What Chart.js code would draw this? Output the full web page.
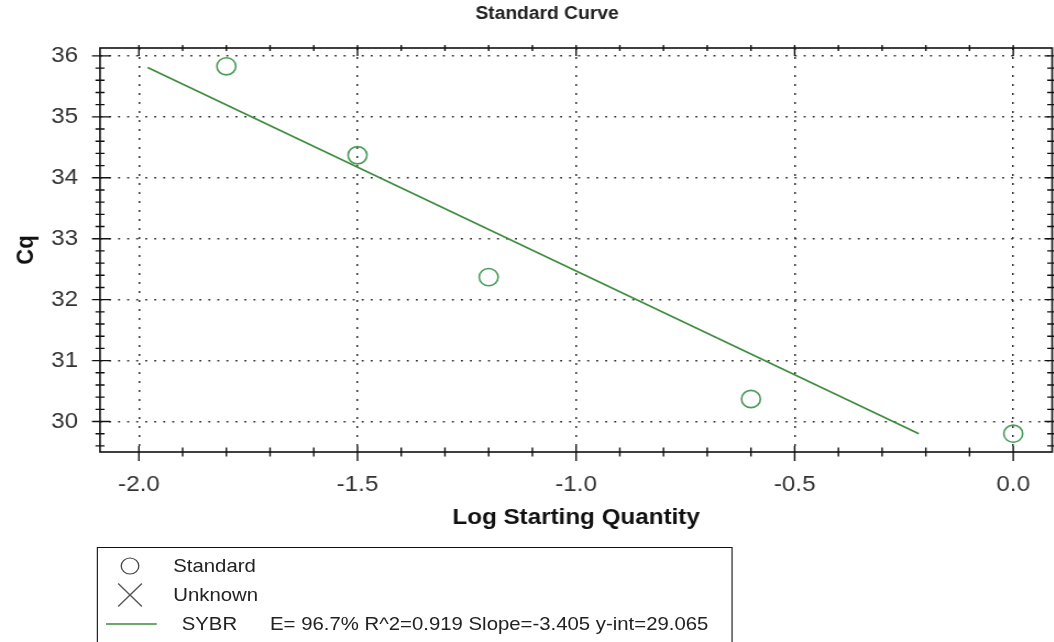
<!DOCTYPE html>
<html>
<head>
<meta charset="utf-8">
<script src="https://cdn.jsdelivr.net/npm/chart.js@4.4.1/dist/chart.umd.min.js"></script>
<style>
  html, body { margin: 0; padding: 0; background: #fff; overflow: hidden; width: 1054px; height: 642px; }
  #wrap { position: absolute; left: 0; top: 0; width: 958px; height: 642px; overflow: hidden;
          transform: scaleX(1.1); transform-origin: 0 0; }
  #c { position: absolute; left: 0; top: 0; }
  #legend { position: absolute; left: 88px; top: 547px; width: 578px; height: 130px;
            border: 1.4px solid #111; box-sizing: border-box; }
  .lt { position: absolute; font-family: "Liberation Sans", Arial, sans-serif; font-size: 18.5px;
        color: #222; line-height: 22px; white-space: pre; }
  svg.mk { position: absolute; overflow: visible; }
</style>
</head>
<body>
<div id="wrap">
  <canvas id="c" width="958" height="642"></canvas>
  <svg class="mk" style="left:0;top:0" width="958" height="642">
    <circle cx="118.2" cy="566" r="8" fill="none" stroke="#444" stroke-width="1.2"/>
    <line x1="107.4" y1="583.5" x2="129" y2="606.5" stroke="#555" stroke-width="1.2"/>
    <line x1="129" y1="583.5" x2="107.4" y2="606.5" stroke="#555" stroke-width="1.2"/>
    <line x1="96.4" y1="624" x2="142.5" y2="624" stroke="#3b8a3b" stroke-width="1.6"/>
  </svg>
  <div id="legend"></div>
  <div class="lt" id="lg1" style="left:157.5px;top:555px"></div>
  <div class="lt" id="lg2" style="left:157.5px;top:584px"></div>
  <div class="lt" id="lg3" style="left:165.2px;top:613px"></div>
  <div class="lt" id="lg4" style="left:245.5px;top:613px"></div>
</div>
<script>
// ---------- data ----------
const chartTitle = 'Standard Curve';
const xAxisTitle = 'Log Starting Quantity';
const yAxisTitle = 'Cq';
const xTickValues = [-2.0, -1.5, -1.0, -0.5, 0.0];
const yTickValues = [30, 31, 32, 33, 34, 35, 36];
const standardLogQty = [-1.8, -1.5, -1.2, -0.6, 0.0];
const standardCq = [35.83, 34.37, 32.37, 30.37, 29.80];
const fitLogQty = [-1.98, -0.216];
const fitCq = [35.81, 29.80];
const legendLabels = ['Standard', 'Unknown', 'SYBR', 'E= 96.7% R^2=0.919 Slope=-3.405 y-int=29.065'];

document.getElementById('lg1').textContent = legendLabels[0];
document.getElementById('lg2').textContent = legendLabels[1];
document.getElementById('lg3').textContent = legendLabels[2];
document.getElementById('lg4').textContent = legendLabels[3];

const FONT = '"Liberation Sans", Arial, sans-serif';
const GREEN_LINE = '#3b8a3b';
const GREEN_PT = '#4a9c5a';

const titlePlugin = {
  id: 'customTitle',
  afterDraw(chart) {
    const ctx = chart.ctx;
    ctx.save();
    ctx.font = 'bold 17.5px ' + FONT;
    ctx.fillStyle = '#222';
    ctx.textAlign = 'center';
    ctx.textBaseline = 'middle';
    ctx.fillText(chartTitle, 497.3, 14.5);
    ctx.restore();
  }
};

const framePlugin = {
  id: 'frame',
  afterDraw(chart) {
    const { ctx, chartArea: { left, right, top, bottom }, scales: { x, y } } = chart;
    ctx.save();
    ctx.strokeStyle = '#111';
    ctx.lineWidth = 1.6;
    ctx.strokeRect(left, top, right - left, bottom - top);
    ctx.lineWidth = 1.4;
    const xSub = 5, ySub = 5;
    for (let i = 0; i < xTickValues.length; i++) {
      const v0 = xTickValues[i];
      const px = x.getPixelForValue(v0);
      ctx.beginPath();
      ctx.moveTo(px, bottom - 6); ctx.lineTo(px, bottom + 9);
      ctx.moveTo(px, top - 3); ctx.lineTo(px, top + 8);
      ctx.stroke();
      if (i < xTickValues.length - 1) {
        const step = (xTickValues[i + 1] - v0) / xSub;
        for (let k = 1; k < xSub; k++) {
          const p = x.getPixelForValue(v0 + k * step);
          ctx.beginPath();
          ctx.moveTo(p, bottom - 4.5); ctx.lineTo(p, bottom + 4.5);
          ctx.moveTo(p, top - 3); ctx.lineTo(p, top + 3);
          ctx.stroke();
        }
      }
    }
    const yStep = (yTickValues[1] - yTickValues[0]) / ySub;
    const yStart = yTickValues[0] - 2 * yStep;
    for (let v = yStart; v <= yTickValues[yTickValues.length - 1] + 1e-9; v += yStep) {
      const py = y.getPixelForValue(v);
      if (py > bottom || py < top) continue;
      const major = yTickValues.some(t => Math.abs(t - v) < 1e-6);
      ctx.beginPath();
      if (major) {
        ctx.moveTo(left - 7.3, py); ctx.lineTo(left + 9.1, py);
        ctx.moveTo(right - 7, py); ctx.lineTo(right + 2, py);
      } else {
        ctx.moveTo(left - 4.1, py); ctx.lineTo(left + 4.1, py);
        ctx.moveTo(right - 4.5, py); ctx.lineTo(right + 2, py);
      }
      ctx.stroke();
    }
    ctx.restore();
  }
};

new Chart(document.getElementById('c'), {
  type: 'scatter',
  data: {
    datasets: [
      {
        label: 'SYBR',
        data: fitLogQty.map((v, i) => ({ x: v, y: fitCq[i] })),
        showLine: true,
        borderColor: GREEN_LINE,
        borderWidth: 1.6,
        pointRadius: 0,
        fill: false
      },
      {
        label: 'Standard',
        data: standardLogQty.map((v, i) => ({ x: v, y: standardCq[i] })),
        showLine: false,
        pointStyle: 'circle',
        pointRadius: 8.6,
        pointBorderWidth: 1.6,
        pointBorderColor: GREEN_PT,
        pointBackgroundColor: 'rgba(0,0,0,0)'
      }
    ]
  },
  options: {
    responsive: false,
    animation: false,
    devicePixelRatio: 1,
    layout: { autoPadding: false, padding: { top: 48, right: 1.5, bottom: 110, left: 0 } },
    plugins: { legend: { display: false }, tooltip: { enabled: false }, title: { display: false } },
    scales: {
      x: {
        type: 'linear',
        min: -2.089,
        max: 0.089,
        afterBuildTicks(scale) { scale.ticks = xTickValues.map(v => ({ value: v })); },
        afterFit(scale) { scale.height = 80; scale.paddingLeft = 0; scale.paddingRight = 0; },
        ticks: {
          callback: v => Number(v).toFixed(1),
          font: { family: FONT, size: 22 },
          color: '#333',
          padding: 20,
          maxRotation: 0,
          autoSkip: false
        },
        grid: { color: '#333', lineWidth: 1.5, drawTicks: false },
        border: { display: false, dash: [2, 7] },
        title: {
          display: true, text: xAxisTitle, color: '#111',
          font: { family: FONT, size: 22, weight: 'bold' },
          padding: { top: 0, bottom: 1 }
        }
      },
      y: {
        type: 'linear',
        min: 29.5,
        max: 36.13,
        afterBuildTicks(scale) { scale.ticks = yTickValues.map(v => ({ value: v })); },
        afterFit(scale) { scale.width = 90.9; scale.paddingTop = 0; scale.paddingBottom = 0; },
        ticks: {
          callback: v => String(v),
          font: { family: FONT, size: 22 },
          color: '#333',
          padding: 20,
          autoSkip: false
        },
        grid: { color: '#333', lineWidth: 1.5, drawTicks: false },
        border: { display: false, dash: [1.8, 6.4] },
        title: {
          display: true, text: yAxisTitle, color: '#111',
          font: { family: FONT, size: 22, weight: 'bold' },
          padding: { top: 10.5, bottom: 0 }
        }
      }
    }
  },
  plugins: [titlePlugin, framePlugin]
});
</script>
</body>
</html>
